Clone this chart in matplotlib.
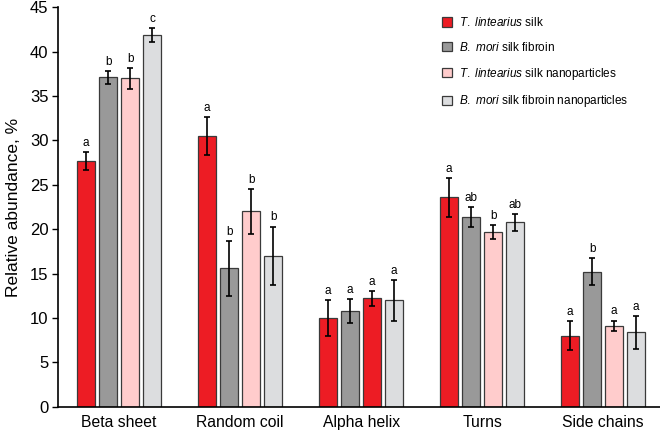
import matplotlib
matplotlib.use("Agg")
import matplotlib.pyplot as plt
from matplotlib.patches import Patch
import numpy as np

plt.rcParams['font.family'] = ['Liberation Sans', 'DejaVu Sans']
plt.rcParams['mathtext.fontset'] = 'custom'
plt.rcParams['mathtext.rm'] = 'Liberation Sans'
plt.rcParams['mathtext.it'] = 'Liberation Sans:italic'

categories = ["Beta sheet", "Random coil", "Alpha helix", "Turns", "Side chains"]
series_names = ["T. lintearius silk", "B. mori silk fibroin",
                "T. lintearius silk nanoparticles", "B. mori silk fibroin nanoparticles"]
legend_labels = [r"$\it{T.}$ $\it{lintearius}$ silk", r"$\it{B.}$ $\it{mori}$ silk fibroin",
                 r"$\it{T.}$ $\it{lintearius}$ silk nanoparticles",
                 r"$\it{B.}$ $\it{mori}$ silk fibroin nanoparticles"]

tl_silk = [27.7, 30.5, 10.0, 23.6, 8.0]
tl_silk_err = [1.0, 2.1, 2.05, 2.2, 1.65]
bm_fibroin = [37.1, 15.6, 10.8, 21.4, 15.2]
bm_fibroin_err = [0.7, 3.1, 1.35, 1.1, 1.5]
tl_nano = [37.0, 22.0, 12.2, 19.7, 9.1]
tl_nano_err = [1.2, 2.55, 0.85, 0.75, 0.6]
bm_nano = [41.9, 17.0, 12.0, 20.8, 8.4]
bm_nano_err = [0.8, 3.3, 2.3, 0.95, 1.85]

letters = [["a", "a", "a", "a", "a"],
           ["b", "b", "a", "ab", "b"],
           ["b", "b", "a", "b", "a"],
           ["c", "b", "a", "ab", "a"]]

colors = ["#ED1C24", "#999999", "#FFCCCC", "#DCDDDF"]
# in the reference, the third bar of "Alpha helix" is drawn red
bar_colors = [[colors[0]] * 5, [colors[1]] * 5,
              [colors[2], colors[2], colors[0], colors[2], colors[2]], [colors[3]] * 5]

values = [tl_silk, bm_fibroin, tl_nano, bm_nano]
errors = [tl_silk_err, bm_fibroin_err, tl_nano_err, bm_nano_err]

fig = plt.figure(figsize=(6.6, 4.32), dpi=100)
ax = fig.add_axes([0.088, 0.0586, 0.912, 0.9244])

x = np.arange(len(categories))
offsets = [-1.5, -0.5, 0.5, 1.5]
step = 0.182
width = 0.145
for i in range(4):
    xs = x + offsets[i] * step
    ax.bar(xs, values[i], width=width, color=bar_colors[i], edgecolor="#3a3a3a",
           linewidth=0.9, zorder=2)
    ax.errorbar(xs, values[i], yerr=errors[i], fmt="none", ecolor="black",
                elinewidth=1.2, capsize=2.5, capthick=1.2, zorder=3)
    for j in range(len(categories)):
        ax.text(xs[j], values[i][j] + errors[i][j] + 0.35, letters[i][j],
                ha="center", va="bottom", fontsize=8.5)

ax.set_xlim(-0.504, 4.47)
ax.set_ylim(0, 45)
ax.set_yticks(range(0, 46, 5))
ax.set_xticks(x)
ax.set_xticklabels(categories, fontsize=11.3)
ax.tick_params(axis="x", length=0, pad=6)
ax.tick_params(axis="y", labelsize=12, length=4, width=1, direction="out", pad=3)
ax.spines["top"].set_visible(False)
ax.spines["right"].set_visible(False)
ax.spines["left"].set_linewidth(1.2)
ax.spines["bottom"].set_linewidth(1.2)
ax.set_ylabel("Relative abundance, %", fontsize=12.5, labelpad=6)

handles = [Patch(facecolor=c, edgecolor="#3a3a3a", linewidth=0.9) for c in colors]
leg = ax.legend(handles, legend_labels, loc="upper left", bbox_to_anchor=(0.62, 1.005),
                frameon=False, fontsize=8.5, handlelength=0.85, handleheight=0.85,
                handletextpad=0.6, labelspacing=1.0)

fig.savefig("out.png", dpi=100)
